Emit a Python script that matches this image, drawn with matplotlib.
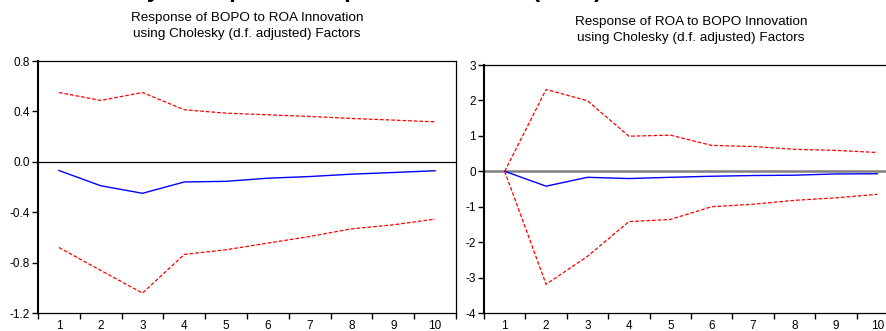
import matplotlib.pyplot as plt
import numpy as np

plt.rcParams['font.family'] = ['Liberation Sans', 'DejaVu Sans']

# periods
periods = [1, 2, 3, 4, 5, 6, 7, 8, 9, 10]

# Response of BOPO to ROA
bopo_resp = [-0.069, -0.19, -0.25, -0.16, -0.155, -0.13, -0.117, -0.098, -0.085, -0.071]
bopo_upper = [0.55, 0.487, 0.55, 0.413, 0.386, 0.373, 0.36, 0.344, 0.331, 0.317]
bopo_lower = [-0.68, -0.862, -1.042, -0.735, -0.698, -0.645, -0.593, -0.532, -0.5, -0.455]

# Response of ROA to BOPO
roa_resp = [0.0, -0.42, -0.17, -0.205, -0.17, -0.14, -0.12, -0.11, -0.075, -0.07]
roa_upper = [0.0, 2.31, 1.99, 0.99, 1.02, 0.73, 0.70, 0.62, 0.59, 0.53]
roa_lower = [0.0, -3.19, -2.4, -1.42, -1.36, -1.0, -0.93, -0.82, -0.75, -0.65]

left_yticks = [0.8, 0.4, 0.0, -0.4, -0.8, -1.2]
right_yticks = [3, 2, 1, 0, -1, -2, -3, -4]

W, H = 887, 331
fig = plt.figure(figsize=(W / 100, H / 100), dpi=100)

# main title, cut off at the top edge (only descenders show)
fig.text(94 / W, 1 + 3.0 / H, 'Analysis Impulse Response Function (ROA)',
         fontsize=17.5, fontweight='bold', ha='left', va='baseline')

ax1 = fig.add_axes([38 / W, 18 / H, 418 / W, 252 / H])
ax2 = fig.add_axes([484 / W, 18 / H, 414 / W, 248 / H])


def style(ax, ylim, yticks, fmt, zero_color, zero_lw):
    ax.set_xlim(0.5, 10.5)
    ax.set_ylim(*ylim)
    ax.axhline(0, color=zero_color, lw=zero_lw, zorder=1)
    ax.set_yticks(yticks)
    ax.set_yticklabels([fmt(v) for v in yticks])
    ax.set_xticks(np.arange(0.5, 11, 1))
    ax.set_xticklabels([])
    ax.set_xticks(periods, minor=True)
    ax.set_xticklabels([str(p) for p in periods], minor=True)
    ax.tick_params(axis='x', which='major', direction='out', length=4, width=1)
    ax.tick_params(axis='x', which='minor', length=0, pad=5, labelsize=8.5)
    ax.tick_params(axis='y', direction='out', length=4, width=1, pad=2, labelsize=8.5)
    for s in ax.spines.values():
        s.set_linewidth(0.9)
    ax.spines['left'].set_linewidth(1.5)


style(ax1, (-1.2, 0.8), left_yticks, lambda v: '%.1f' % v, 'black', 0.9)
style(ax2, (-4, 3), right_yticks, lambda v: '%d' % v, '#808080', 1.8)

for ax, r, u, l in [(ax1, bopo_resp, bopo_upper, bopo_lower),
                    (ax2, roa_resp, roa_upper, roa_lower)]:
    ax.plot(periods, r, color='#0000ff', lw=1.0, zorder=3)
    ax.plot(periods, u, color='#ff0000', lw=0.9, ls=(0, (3, 1.5)), zorder=3)
    ax.plot(periods, l, color='#ff0000', lw=0.9, ls=(0, (3, 1.5)), zorder=3)

ax1.set_title('Response of BOPO to ROA Innovation\nusing Cholesky (d.f. adjusted) Factors',
              fontsize=9.7, pad=17, linespacing=1.45)
ax2.set_title('Response of ROA to BOPO Innovation\nusing Cholesky (d.f. adjusted) Factors',
              fontsize=9.7, pad=17, linespacing=1.45)
ax2.spines['right'].set_visible(False)

fig.savefig('out.png', dpi=100)
